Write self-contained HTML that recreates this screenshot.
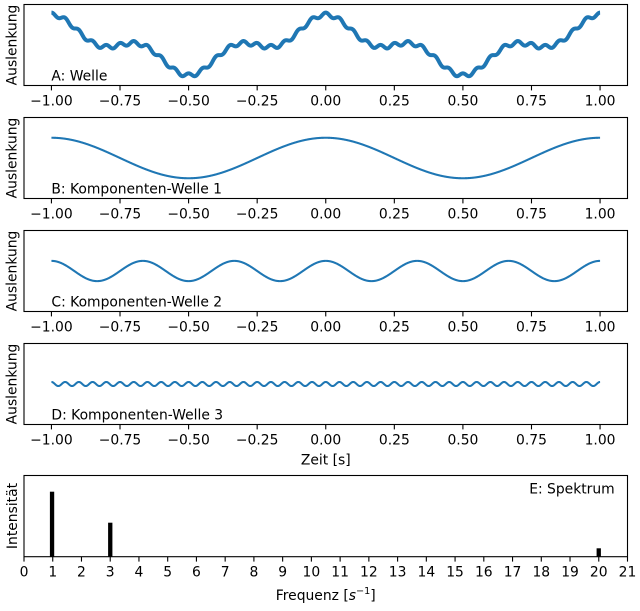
<!DOCTYPE html>
<html>
<head>
<meta charset="utf-8">
<style>
html,body{margin:0;padding:0;background:#fff;}
svg{display:block;}
text{font-family:"DejaVu Sans","Liberation Sans",sans-serif;font-size:13.89px;fill:#000;}
</style>
</head>
<body>
<svg id="s" width="640" height="611" viewBox="0 0 640 611" xmlns="http://www.w3.org/2000/svg">
<rect x="0" y="0" width="640" height="611" fill="#fff"/>
<g id="curves"></g>
<g id="axes" fill="none" stroke="#000" stroke-width="1.1"></g>
<g id="ticks" stroke="#000" stroke-width="1.1"></g>
<g id="labels"></g>

<!-- panel texts -->
<text x="51.4" y="80.3">A: Welle</text>
<text x="51.4" y="193.3">B: Komponenten-Welle 1</text>
<text x="51.4" y="306.3">C: Komponenten-Welle 2</text>
<text x="51.4" y="419.3">D: Komponenten-Welle 3</text>
<text x="614.7" y="493.7" text-anchor="end">E: Spektrum</text>

<!-- y labels -->
<text transform="translate(16.5,45) rotate(-90)" text-anchor="middle">Auslenkung</text>
<text transform="translate(16.5,158) rotate(-90)" text-anchor="middle">Auslenkung</text>
<text transform="translate(16.5,271) rotate(-90)" text-anchor="middle">Auslenkung</text>
<text transform="translate(16.5,384) rotate(-90)" text-anchor="middle">Auslenkung</text>
<text transform="translate(17,516) rotate(-90)" text-anchor="middle">Intensität</text>

<!-- x labels -->
<text x="325.75" y="464.3" text-anchor="middle">Zeit [s]</text>
<text x="325.75" y="600" text-anchor="middle">Frequenz [<tspan font-style="italic">s</tspan><tspan font-size="9.7" dy="-6">−1</tspan><tspan dy="6">]</tspan></text>

<!-- spectrum bars -->
<rect x="49.9" y="491.7" width="4.3" height="65" fill="#000"/>
<rect x="108.1" y="522.7" width="4.3" height="34" fill="#000"/>
<rect x="596.6" y="548.3" width="4.3" height="8.4" fill="#000"/>
</svg>
<script>
(function(){
  var NS="http://www.w3.org/2000/svg";
  function el(tag,attrs,parent,txt){var e=document.createElementNS(NS,tag);for(var k in attrs)e.setAttribute(k,attrs[k]);if(txt!==undefined)e.textContent=txt;parent.appendChild(e);return e;}
  var L=24,R=627.5,W=R-L;
  function X(t){return L+(t+1.1)*W/2.2;}
  var tops=[4.5,117.5,230.5,343.5];
  var H=81;
  var P=Math.PI;
  var funcs=[
    function(t){return Math.cos(2*P*t)+0.5*Math.cos(6*P*t)+0.1*Math.cos(40*P*t);},
    function(t){return Math.cos(2*P*t);},
    function(t){return 0.5*Math.cos(6*P*t);},
    function(t){return 0.1*Math.cos(40*P*t);}
  ];
  var widths=[4,2.08,2.08,2.08];
  var curves=document.getElementById('curves');
  var axes=document.getElementById('axes');
  var ticks=document.getElementById('ticks');
  var labels=document.getElementById('labels');
  var tv=[-1,-0.75,-0.5,-0.25,0,0.25,0.5,0.75,1];
  var tl=["−1.00","−0.75","−0.50","−0.25","0.00","0.25","0.50","0.75","1.00"];
  for(var i=0;i<4;i++){
    var top=tops[i],c=top+H/2,d="";
    var N=2400;
    for(var j=0;j<=N;j++){
      var t=-1+2*j/N;
      var y=c-funcs[i](t)*20.25;
      d+=(j?"L":"M")+X(t).toFixed(2)+" "+y.toFixed(2);
    }
    el('path',{d:d,fill:'none',stroke:'#1f77b4','stroke-width':widths[i],'stroke-linejoin':'round','stroke-linecap':'butt'},curves);
    el('rect',{x:L,y:top,width:W,height:H},axes);
    var b=top+H;
    for(var k=0;k<tv.length;k++){
      var x=X(tv[k]);
      el('line',{x1:x,y1:b,x2:x,y2:b+4.9},ticks);
      el('text',{x:x,y:b+20,'text-anchor':'middle'},labels,tl[k]);
    }
  }
  // spectrum panel
  var et=475.5,eh=81.2;
  el('rect',{x:L,y:et,width:W,height:eh},axes);
  var eb=et+eh;
  for(var f=0;f<=21;f++){
    var x=L+f*W/21;
    el('line',{x1:x,y1:eb,x2:x,y2:eb+4.9},ticks);
    el('text',{x:x,y:eb+20,'text-anchor':'middle'},labels,String(f));
  }
})();
</script>
</body>
</html>
